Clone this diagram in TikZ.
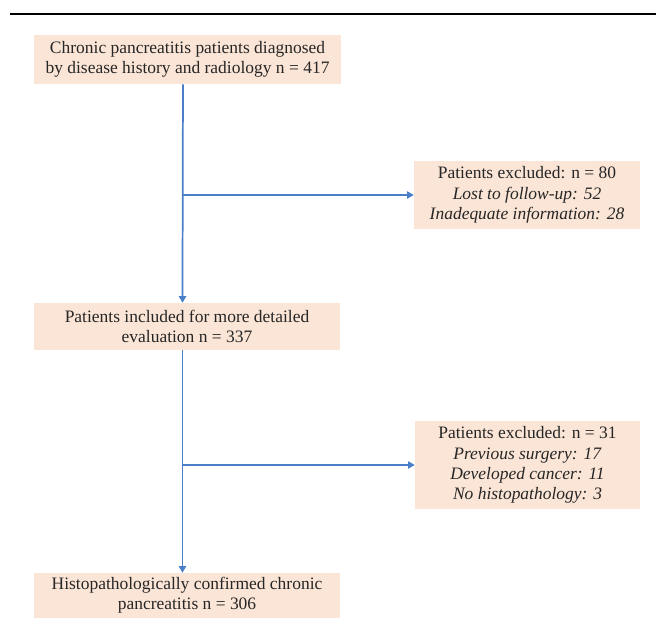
\documentclass[tikz,border=0pt]{standalone}
\usepackage{fontspec}
\setmainfont{Liberation Serif}
\usetikzlibrary{arrows.meta}

\definecolor{peach}{HTML}{FBE5D6}
\definecolor{flowblue}{HTML}{4A7EC6}
\definecolor{ink}{HTML}{262626}

\tikzset{
  box/.style={fill=peach, text=ink, align=center, inner sep=0pt,
    font=\fontsize{13.1}{15.2}\selectfont},
  flow/.style={draw=flowblue, line width=1.3pt, -{Triangle[width=5.5pt,length=5pt]}},
  side/.style={draw=flowblue, line width=0.9pt, -{Triangle[width=5.5pt,length=5pt]}}
}

\begin{document}
\begin{tikzpicture}[x=0.75pt,y=-0.75pt]
    \useasboundingbox (0,0) rectangle (656,618);
    \draw[line width=1.6pt] (10,14) -- (656,14);

    % main column
    \node[box, minimum width=230.25pt, minimum height=36.75pt] (diag) at (187.5,59.5)
      {Chronic pancreatitis patients diagnosed\\by disease history and radiology n = 417};
    \node[box, minimum width=229.5pt, minimum height=35.25pt] (incl) at (187,326.5)
      {Patients included for more detailed\\evaluation n = 337};
    \node[box, minimum width=229.5pt, minimum height=33.75pt] (conf) at (187,595.5)
      {Histopathologically confirmed chronic\\pancreatitis n = 306};

    % excluded
    \node[box, minimum width=169.5pt, minimum height=51pt] (excl1) at (527,195)
      {Patients excluded: n = 80\\\textit{Lost to follow-up: 52}\\\textit{Inadequate information: 28}};
    \node[box, minimum width=168.75pt, minimum height=66pt] (excl2) at (527.5,465)
      {Patients excluded: n = 31\\\textit{Previous surgery: 17}\\\textit{Developed cancer: 11}\\\textit{No histopathology: 3}};

    \draw[flow] ([xshift=-3.4pt]diag.south) -- ([xshift=-3.4pt]incl.north);
    \draw[flow] ([xshift=-3.4pt]incl.south) -- ([xshift=-3.4pt]conf.north);

    \coordinate (j1) at ([xshift=-3.4pt]diag.south |- excl1.west);
    \coordinate (j2) at ([xshift=-3.4pt]incl.south |- excl2.west);
    \draw[side] (j1) -- (excl1.west);
    \draw[side] (j2) -- (excl2.west);
\end{tikzpicture}
\end{document}
